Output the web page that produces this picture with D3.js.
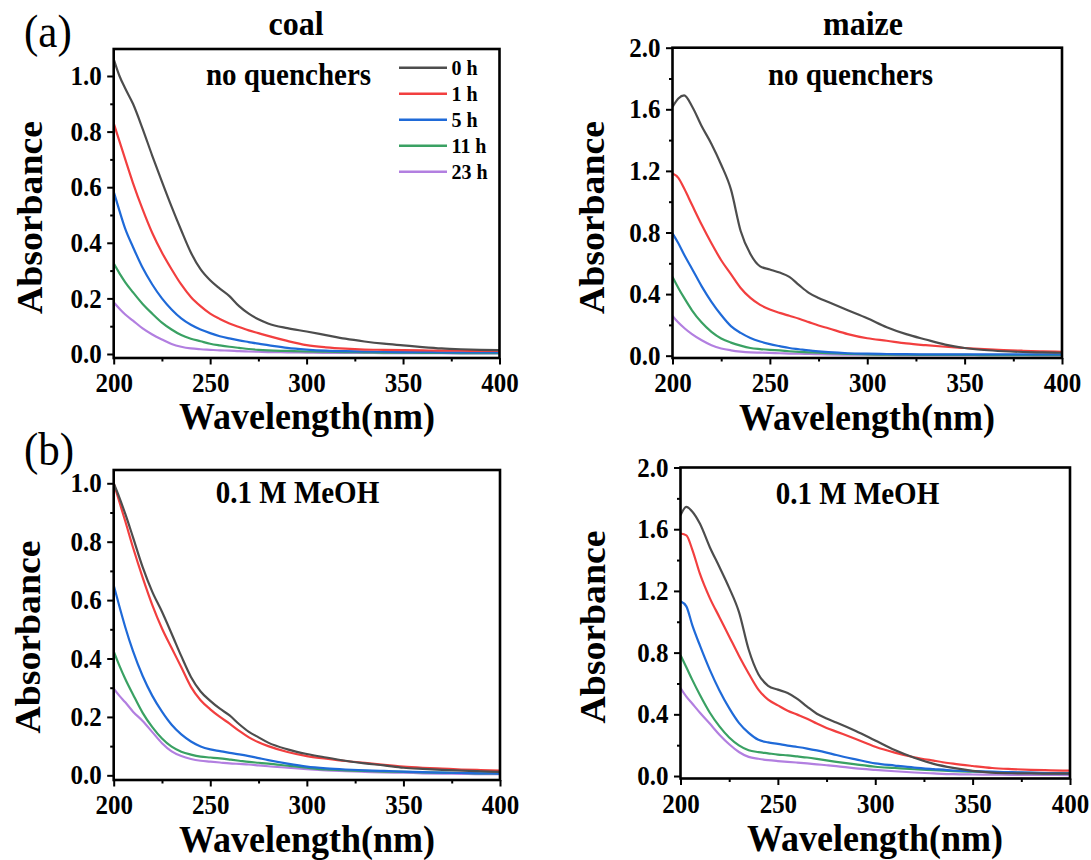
<!DOCTYPE html>
<html>
<head>
<meta charset="utf-8">
<script src="https://cdn.jsdelivr.net/npm/d3@7"></script>
<style>
  html, body { margin: 0; padding: 0; background: #fff; }
  svg { display: block; }
  text { font-family: "Liberation Serif", "Times New Roman", serif; }
</style>
</head>
<body>
<svg id="chart" width="1091" height="860"></svg>
<script>
// ---------------- DATA ----------------
const wavelengths = [200,203,206,210,215,220,225,230,235,240,245,250,255,260,265,270,275,280,290,300,310,320,330,340,350,360,370,380,390,400];
const seriesNames = ["0 h", "1 h", "5 h", "11 h", "23 h"];
const seriesColors = ["#4d4d4d", "#f23f3f", "#1f6ad8", "#3aa163", "#b27fe0"];

// (a) coal, no quenchers
const coalNone = [
  [1.061,1.0,0.955,0.9,0.81,0.713,0.62,0.53,0.445,0.365,0.305,0.265,0.235,0.208,0.172,0.145,0.125,0.11,0.093,0.081,0.068,0.055,0.045,0.037,0.031,0.025,0.02,0.017,0.015,0.014],
  [0.83,0.765,0.70,0.615,0.52,0.435,0.365,0.305,0.25,0.205,0.172,0.145,0.126,0.11,0.097,0.085,0.075,0.065,0.047,0.032,0.024,0.019,0.016,0.015,0.014,0.013,0.012,0.012,0.011,0.011],
  [0.584,0.515,0.45,0.385,0.31,0.25,0.2,0.16,0.128,0.105,0.088,0.075,0.064,0.056,0.049,0.043,0.037,0.032,0.022,0.016,0.012,0.01,0.009,0.008,0.007,0.007,0.006,0.006,0.006,0.006],
  [0.326,0.29,0.258,0.222,0.18,0.145,0.113,0.088,0.068,0.055,0.046,0.037,0.031,0.026,0.022,0.018,0.015,0.013,0.011,0.009,0.008,0.007,0.006,0.005,0.005,0.004,0.004,0.003,0.003,0.003],
  [0.186,0.163,0.142,0.12,0.092,0.07,0.052,0.036,0.026,0.02,0.017,0.015,0.013,0.012,0.01,0.009,0.008,0.007,0.006,0.005,0.004,0.004,0.004,0.003,0.003,0.003,0.003,0.002,0.002,0.002]
];
// (a) maize, no quenchers
const maizeNone = [
  [1.615,1.67,1.69,1.62,1.49,1.375,1.24,1.08,0.81,0.66,0.58,0.56,0.54,0.512,0.458,0.408,0.375,0.348,0.295,0.243,0.185,0.14,0.105,0.072,0.05,0.037,0.029,0.024,0.021,0.019],
  [1.183,1.155,1.085,0.98,0.85,0.73,0.62,0.53,0.44,0.375,0.33,0.3,0.278,0.259,0.24,0.218,0.196,0.178,0.14,0.113,0.097,0.08,0.068,0.058,0.05,0.043,0.037,0.032,0.028,0.025],
  [0.794,0.73,0.655,0.565,0.45,0.35,0.264,0.192,0.148,0.115,0.092,0.075,0.062,0.05,0.042,0.034,0.028,0.023,0.016,0.013,0.011,0.01,0.009,0.009,0.008,0.008,0.008,0.008,0.008,0.008],
  [0.512,0.44,0.375,0.295,0.215,0.155,0.112,0.085,0.065,0.05,0.043,0.038,0.034,0.029,0.025,0.022,0.019,0.017,0.012,0.009,0.007,0.006,0.005,0.005,0.005,0.004,0.004,0.004,0.004,0.004],
  [0.259,0.215,0.18,0.14,0.1,0.068,0.047,0.035,0.027,0.022,0.02,0.018,0.016,0.014,0.013,0.011,0.01,0.009,0.007,0.006,0.005,0.004,0.004,0.003,0.003,0.003,0.003,0.003,0.002,0.002]
];
// (b) coal, 0.1 M MeOH
const coalMeOH = [
  [1.0,0.95,0.895,0.815,0.713,0.628,0.56,0.485,0.408,0.337,0.287,0.255,0.228,0.205,0.175,0.149,0.13,0.112,0.089,0.073,0.061,0.05,0.041,0.034,0.026,0.022,0.019,0.016,0.014,0.012],
  [1.0,0.935,0.87,0.78,0.677,0.583,0.503,0.436,0.37,0.303,0.257,0.226,0.2,0.177,0.152,0.13,0.113,0.1,0.08,0.066,0.057,0.049,0.043,0.036,0.03,0.026,0.023,0.02,0.018,0.016],
  [0.651,0.577,0.507,0.425,0.34,0.272,0.218,0.173,0.14,0.116,0.099,0.089,0.083,0.077,0.072,0.066,0.059,0.052,0.04,0.03,0.024,0.02,0.017,0.015,0.013,0.011,0.009,0.008,0.007,0.006],
  [0.425,0.375,0.33,0.277,0.214,0.165,0.126,0.098,0.081,0.071,0.064,0.061,0.058,0.054,0.05,0.046,0.043,0.04,0.033,0.026,0.02,0.017,0.015,0.013,0.012,0.01,0.009,0.008,0.007,0.007],
  [0.297,0.272,0.25,0.218,0.186,0.148,0.11,0.082,0.066,0.056,0.05,0.047,0.044,0.041,0.039,0.037,0.034,0.031,0.026,0.021,0.017,0.014,0.012,0.01,0.009,0.007,0.006,0.005,0.004,0.004]
];
// (b) maize, 0.1 M MeOH
const maizeMeOH = [
  [1.69,1.745,1.715,1.635,1.485,1.355,1.22,1.064,0.82,0.66,0.585,0.56,0.538,0.5,0.45,0.404,0.373,0.347,0.292,0.23,0.168,0.118,0.079,0.053,0.034,0.022,0.018,0.017,0.016,0.016],
  [1.572,1.56,1.47,1.31,1.155,1.03,0.905,0.78,0.665,0.56,0.495,0.458,0.423,0.398,0.372,0.34,0.312,0.288,0.24,0.19,0.152,0.122,0.1,0.08,0.065,0.052,0.045,0.04,0.037,0.035],
  [1.133,1.1,0.98,0.845,0.69,0.555,0.44,0.345,0.28,0.235,0.218,0.208,0.197,0.188,0.178,0.166,0.152,0.136,0.108,0.082,0.068,0.055,0.045,0.036,0.032,0.028,0.025,0.022,0.019,0.017],
  [0.783,0.705,0.625,0.525,0.412,0.322,0.25,0.199,0.167,0.155,0.147,0.139,0.134,0.127,0.12,0.111,0.101,0.092,0.075,0.06,0.052,0.044,0.038,0.032,0.028,0.025,0.022,0.02,0.019,0.018],
  [0.571,0.515,0.47,0.41,0.34,0.268,0.206,0.156,0.124,0.112,0.103,0.097,0.092,0.087,0.082,0.076,0.07,0.064,0.05,0.04,0.031,0.023,0.017,0.012,0.01,0.009,0.008,0.007,0.007,0.006]
];

const xTickMajor = [200, 250, 300, 350, 400];
const xTickMinor = [225, 275, 325, 375];
const coalYMajor = [0.0, 0.2, 0.4, 0.6, 0.8, 1.0];
const coalYMinor = [0.1, 0.3, 0.5, 0.7, 0.9];
const maizeYMajor = [0.0, 0.4, 0.8, 1.2, 1.6, 2.0];
const maizeYMinor = [0.2, 0.6, 1.0, 1.4, 1.8];
const panelTitles = ["coal", "maize"];
const conditionLabels = ["no quenchers", "0.1 M MeOH"];
const panelLetters = ["(a)", "(b)"];
const xTitle = "Wavelength(nm)";
const yTitle = "Absorbance";

// ---------------- LAYOUT ----------------
const svg = d3.select("#chart");
const SY = 1.08; // vertical stretch of the original figure's text
const FONT = '"Liberation Serif", "Times New Roman", serif';

const panels = [
  { values: coalNone,  left: 113.7, right: 499.5, top: 49,    bottom: 358,   yDom: [-0.0144, 1.0971], yMaj: coalYMajor,  yMin: coalYMinor,
    cond: conditionLabels[0], condX: 288.5, condY: 85, title: panelTitles[0], titleX: 296, titleY: 35,
    xtX: 307, xtY: 429, ytX: 42, ytY: 217.5, legend: true },
  { values: maizeNone, left: 672.5, right: 1062,  top: 47.7,  bottom: 358,   yDom: [-0.015, 2.0], yMaj: maizeYMajor, yMin: maizeYMinor,
    cond: conditionLabels[0], condX: 850.5, condY: 85, title: panelTitles[1], titleX: 863, titleY: 35,
    xtX: 867, xtY: 430, ytX: 604, ytY: 217.5, legend: false },
  { values: coalMeOH,  left: 113.7, right: 500,   top: 470,   bottom: 780,   yDom: [-0.016, 1.0455], yMaj: coalYMajor, yMin: coalYMinor,
    cond: conditionLabels[1], condX: 297.5, condY: 503, title: null,
    xtX: 307, xtY: 851.5, ytX: 40, ytY: 637, legend: false },
  { values: maizeMeOH, left: 680.5, right: 1070,  top: 467.5, bottom: 778.5, yDom: [-0.016, 2.0], yMaj: maizeYMajor, yMin: maizeYMinor,
    cond: conditionLabels[1], condX: 857.5, condY: 504, title: null,
    xtX: 875, xtY: 851, ytX: 605, ytY: 627, legend: false }
];

function stretchedText(parent, x, y, str, size, opts = {}) {
  const rot = opts.rotate ? ` rotate(${opts.rotate})` : "";
  return parent.append("text")
    .attr("transform", `translate(${x},${y}) scale(1,${SY})${rot}`)
    .attr("text-anchor", opts.anchor || "middle")
    .attr("font-family", FONT)
    .attr("font-weight", opts.weight || "bold")
    .attr("font-size", size)
    .attr("fill", "#000")
    .text(str);
}

panels.forEach((p, pi) => {
  const g = svg.append("g");
  const x = d3.scaleLinear().domain([200, 400]).range([p.left, p.right]);
  const y = d3.scaleLinear().domain(p.yDom).range([p.bottom, p.top]);

  const clipId = "clip" + pi;
  svg.append("clipPath").attr("id", clipId).append("rect")
    .attr("x", p.left).attr("y", p.top).attr("width", p.right - p.left).attr("height", p.bottom - p.top);

  const line = d3.line()
    .x((d, i) => x(wavelengths[i]))
    .y(d => y(d))
    .curve(d3.curveMonotoneX);
  const curves = g.append("g").attr("clip-path", `url(#${clipId})`);
  for (let s = p.values.length - 1; s >= 0; s--) {
    curves.append("path")
      .datum(p.values[s])
      .attr("d", line)
      .attr("fill", "none")
      .attr("stroke", seriesColors[s])
      .attr("stroke-width", 2.2)
      .attr("stroke-linejoin", "round");
  }

  const xAxisMaj = d3.axisBottom(x).tickValues(xTickMajor).tickSize(6.5).tickPadding(7.5).tickFormat(d3.format("d"));
  const xAxisMin = d3.axisBottom(x).tickValues(xTickMinor).tickSize(3.5).tickFormat("");
  const yAxisMaj = d3.axisLeft(y).tickValues(p.yMaj).tickSize(6.5).tickPadding(5.5).tickFormat(d3.format(".1f"));
  const yAxisMin = d3.axisLeft(y).tickValues(p.yMin).tickSize(3.5).tickFormat("");

  [xAxisMaj, xAxisMin].forEach(ax => {
    const a = g.append("g").attr("transform", `translate(0,${p.bottom})`).call(ax);
    a.select(".domain").remove();
    a.selectAll("line").attr("stroke", "#000").attr("stroke-width", 2);
    a.selectAll("text").attr("font-family", FONT).attr("font-weight", "bold").attr("font-size", 25).attr("fill", "#000")
      .attr("transform", `scale(1,${SY})`);
  });
  [yAxisMaj, yAxisMin].forEach(ax => {
    const a = g.append("g").attr("transform", `translate(${p.left},0)`).call(ax);
    a.select(".domain").remove();
    a.selectAll("line").attr("stroke", "#000").attr("stroke-width", 2);
    a.selectAll("text").attr("font-family", FONT).attr("font-weight", "bold").attr("font-size", 25).attr("fill", "#000")
      .attr("transform", `scale(1,${SY})`);
  });

  g.append("rect")
    .attr("x", p.left).attr("y", p.top)
    .attr("width", p.right - p.left).attr("height", p.bottom - p.top)
    .attr("fill", "none").attr("stroke", "#000").attr("stroke-width", 2.6);

  stretchedText(g, p.condX, p.condY, p.cond, 29);
  if (p.title) stretchedText(g, p.titleX, p.titleY, p.title, 32);
  stretchedText(g, p.xtX, p.xtY, xTitle, 36);
  stretchedText(g, p.ytX, p.ytY, yTitle, 35, { rotate: -90 });

  if (p.legend) {
    const lg = g.append("g");
    const ly0 = 67.7, lstep = 26;
    seriesNames.forEach((name, i) => {
      const yy = ly0 + i * lstep;
      lg.append("line").attr("x1", 399).attr("x2", 447).attr("y1", yy).attr("y2", yy)
        .attr("stroke", seriesColors[i]).attr("stroke-width", 2.4);
      stretchedText(lg, 451.5, yy + 7, name, 20, { anchor: "start" });
    });
  }
});

stretchedText(svg, 24, 47, panelLetters[0], 43, { anchor: "start", weight: "normal" });
stretchedText(svg, 24, 465, panelLetters[1], 43, { anchor: "start", weight: "normal" });
</script>
</body>
</html>
